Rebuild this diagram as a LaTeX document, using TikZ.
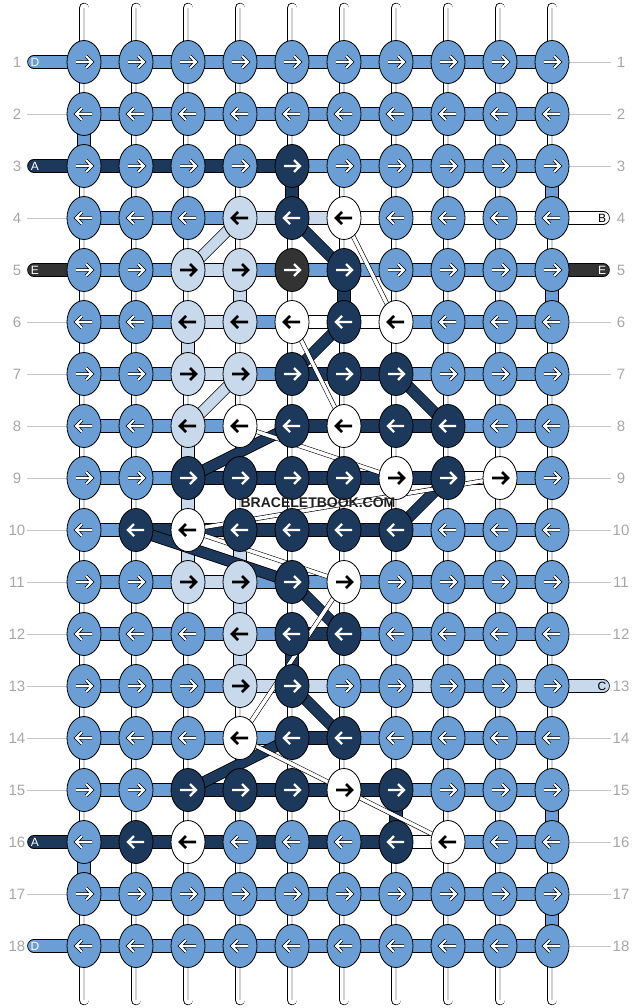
\documentclass[tikz,border=0pt]{standalone}
\usepackage{fontspec}
\setmainfont{Liberation Sans}
\usetikzlibrary{shapes.geometric}

\definecolor{cL}{RGB}{106,158,212}
\definecolor{cN}{RGB}{28,56,90}
\definecolor{cP}{RGB}{200,217,235}
\definecolor{cK}{RGB}{51,51,51}
\definecolor{cW}{RGB}{255,255,255}

\begin{document}
\begin{tikzpicture}[x=1pt,y=-1pt,
    knot/.style={ellipse,draw,line width=0.8pt,minimum width=34pt,minimum height=43pt,inner sep=0pt},
    band/.style={double distance=12pt,line width=0.8pt},
    diag/.style={double distance=10pt,line width=0.8pt},
    thinstr/.style={double=white,double distance=3.5pt,line width=0.6pt},
    tube/.style={double=white,double distance=9pt,line width=0.8pt,line cap=round},
    rowno/.style={text=gray!70,font=\fontsize{15}{15}\selectfont},
    endtag/.style={font=\fontsize{12}{12}\selectfont},
    arrL/.style={double=white,double distance=2pt,line width=0.7pt},
    arrN/.style={white,line width=2.4pt},
    arrK/.style={white,line width=2.4pt},
    arrW/.style={black,line width=2.6pt},
    arrP/.style={black,line width=2.6pt}]
\useasboundingbox (0,0) rectangle (636,1008);

% Grid points
\foreach \c in {1,...,10}{
  \coordinate (t-\c) at ({84+52*(\c-1)},8);
  \coordinate (b-\c) at ({84+52*(\c-1)},1000);
  \foreach \r in {1,...,18}
    \coordinate (p-\c-\r) at ({84+52*(\c-1)},{62+52*(\r-1)});
}

% Vertical strings
\foreach \c in {1,...,10}{
  \draw[tube] (t-\c) -- (b-\c);
  \draw[gray!35,line width=1.2pt] (t-\c) -- (b-\c);
}
\foreach \c/\r/\col in {1/2/L,1/16/L,10/3/L,10/5/L,10/15/L,10/17/L,
    5/3/N,5/12/N,6/5/N,7/15/N,
    3/6/P,3/8/P,3/9/P,3/10/P,4/5/P,4/10/P,4/11/P,4/12/P}{
  \pgfmathtruncatemacro\rn{\r+1}
  \draw[band,double=c\col] (p-\c-\r) -- (p-\c-\rn);
}

% Row ends and numbers
\foreach \r in {1,...,18}{
  \coordinate (ll-\r) at (27,{62+52*(\r-1)});
  \coordinate (rr-\r) at (611,{62+52*(\r-1)});
  \node[rowno] (nl-\r) at (17,{62+52*(\r-1)}) {\r};
  \node[rowno] (nr-\r) at (621,{62+52*(\r-1)}) {\r};
}
\foreach \r in {2,4,6,7,8,9,10,11,12,13,14,15,17}
  \draw[gray!45,line width=0.8pt] (ll-\r) -- (p-1-\r);
\foreach \r in {1,2,3,6,7,8,9,10,11,12,14,15,16,17,18}
  \draw[gray!45,line width=0.8pt] (p-10-\r) -- (rr-\r);
\foreach \r/\col/\txt/\tc in {1/L/D/white,3/N/A/white,5/K/E/white,16/N/A/white,18/L/D/white}{
  \coordinate (le-\r) at (34,{62+52*(\r-1)});
  \draw[band,double=c\col,line cap=round] (le-\r) -- (p-1-\r);
  \node[endtag,text=\tc] (lt-\r) at (35,{62+52*(\r-1)}) {\txt};
}
\foreach \r/\col/\txt/\tc in {4/W/B/black,5/K/E/white,13/P/C/black}{
  \coordinate (re-\r) at (603,{62+52*(\r-1)});
  \draw[band,double=c\col,line cap=round] (p-10-\r) -- (re-\r);
  \node[endtag,text=\tc] (rt-\r) at (602,{62+52*(\r-1)}) {\txt};
}

% Horizontal strings
\foreach \r/\ss in {1/{L,L,L,L,L,L,L,L,L},2/{L,L,L,L,L,L,L,L,L},
    3/{N,N,N,N,L,L,L,L,L},4/{L,L,L,P,P,W,W,W,W},
    5/{L,L,P,L,L,L,L,L,L},6/{L,L,P,L,W,W,L,L,L},
    7/{L,L,P,L,N,N,L,L,L},8/{L,L,L,W,N,N,N,L,L},
    9/{L,L,N,N,N,N,N,W,L},10/{L,N,N,N,N,N,L,L,L},
    11/{L,L,P,L,L,L,L,L,L},12/{L,L,L,L,N,L,L,L,L},
    13/{L,L,L,P,P,L,P,L,P},14/{L,L,L,L,N,L,L,L,L},
    15/{L,L,N,N,N,N,L,L,L},16/{N,N,N,N,N,N,W,L,L},
    17/{L,L,L,L,L,L,L,L,L},18/{L,L,L,L,L,L,L,L,L}}{
  \foreach \col [count=\c] in \ss {
    \pgfmathtruncatemacro\cn{\c+1}
    \draw[band,double=c\col] (p-\c-\r) -- (p-\cn-\r);
  }
}

% Diagonal strings
\foreach \a/\ra/\b/\rb/\col in {5/4/6/5/N,6/6/5/7/N,7/7/8/8/N,5/8/3/9/N,8/9/7/10/N,
    2/10/5/11/N,5/11/6/12/N,5/13/6/14/N,5/14/3/15/N,4/4/3/5/P,4/7/3/8/P}
  \draw[diag,double=c\col] (p-\a-\ra) -- (p-\b-\rb);
\foreach \a/\ra/\b/\rb in {6/4/7/6,5/6/6/8,4/8/7/9,3/10/9/9,3/10/6/11,6/11/4/14,4/14/6/15,6/15/8/16}
  \draw[thinstr] (p-\a-\ra) -- (p-\b-\rb);

% Knots
\foreach \r/\ks in {1/{L,L,L,L,L,L,L,L,L,L},2/{L,L,L,L,L,L,L,L,L,L},
    3/{L,L,L,L,N,L,L,L,L,L},4/{L,L,L,P,N,W,L,L,L,L},
    5/{L,L,P,P,K,N,L,L,L,L},6/{L,L,P,P,W,N,W,L,L,L},
    7/{L,L,P,P,N,N,N,L,L,L},8/{L,L,P,W,N,W,N,N,L,L},
    9/{L,L,N,N,N,N,W,N,W,L},10/{L,N,W,N,N,N,N,L,L,L},
    11/{L,L,P,P,N,W,L,L,L,L},12/{L,L,L,P,N,N,L,L,L,L},
    13/{L,L,L,P,N,L,L,L,L,L},14/{L,L,L,W,N,N,L,L,L,L},
    15/{L,L,N,N,N,W,N,L,L,L},16/{L,N,W,L,L,L,N,W,L,L},
    17/{L,L,L,L,L,L,L,L,L,L},18/{L,L,L,L,L,L,L,L,L,L}}{
  \pgfmathsetmacro\dir{ifthenelse(mod(\r,2)==1,1,-1)}
  \foreach \col [count=\c] in \ks {
    \node[knot,fill=c\col] (k-\c-\r) at (p-\c-\r) {};
    \draw[arr\col,shift={(p-\c-\r)},xscale=\dir] (-8,0) -- (8,0) (2,-6) -- (8,0) -- (2,6);
  }
}

% Watermark
\node[text=gray!25!black,font=\bfseries\fontsize{14}{14}\selectfont] (wm) at (318,503) {BRACELETBOOK.COM};
\end{tikzpicture}
\end{document}
